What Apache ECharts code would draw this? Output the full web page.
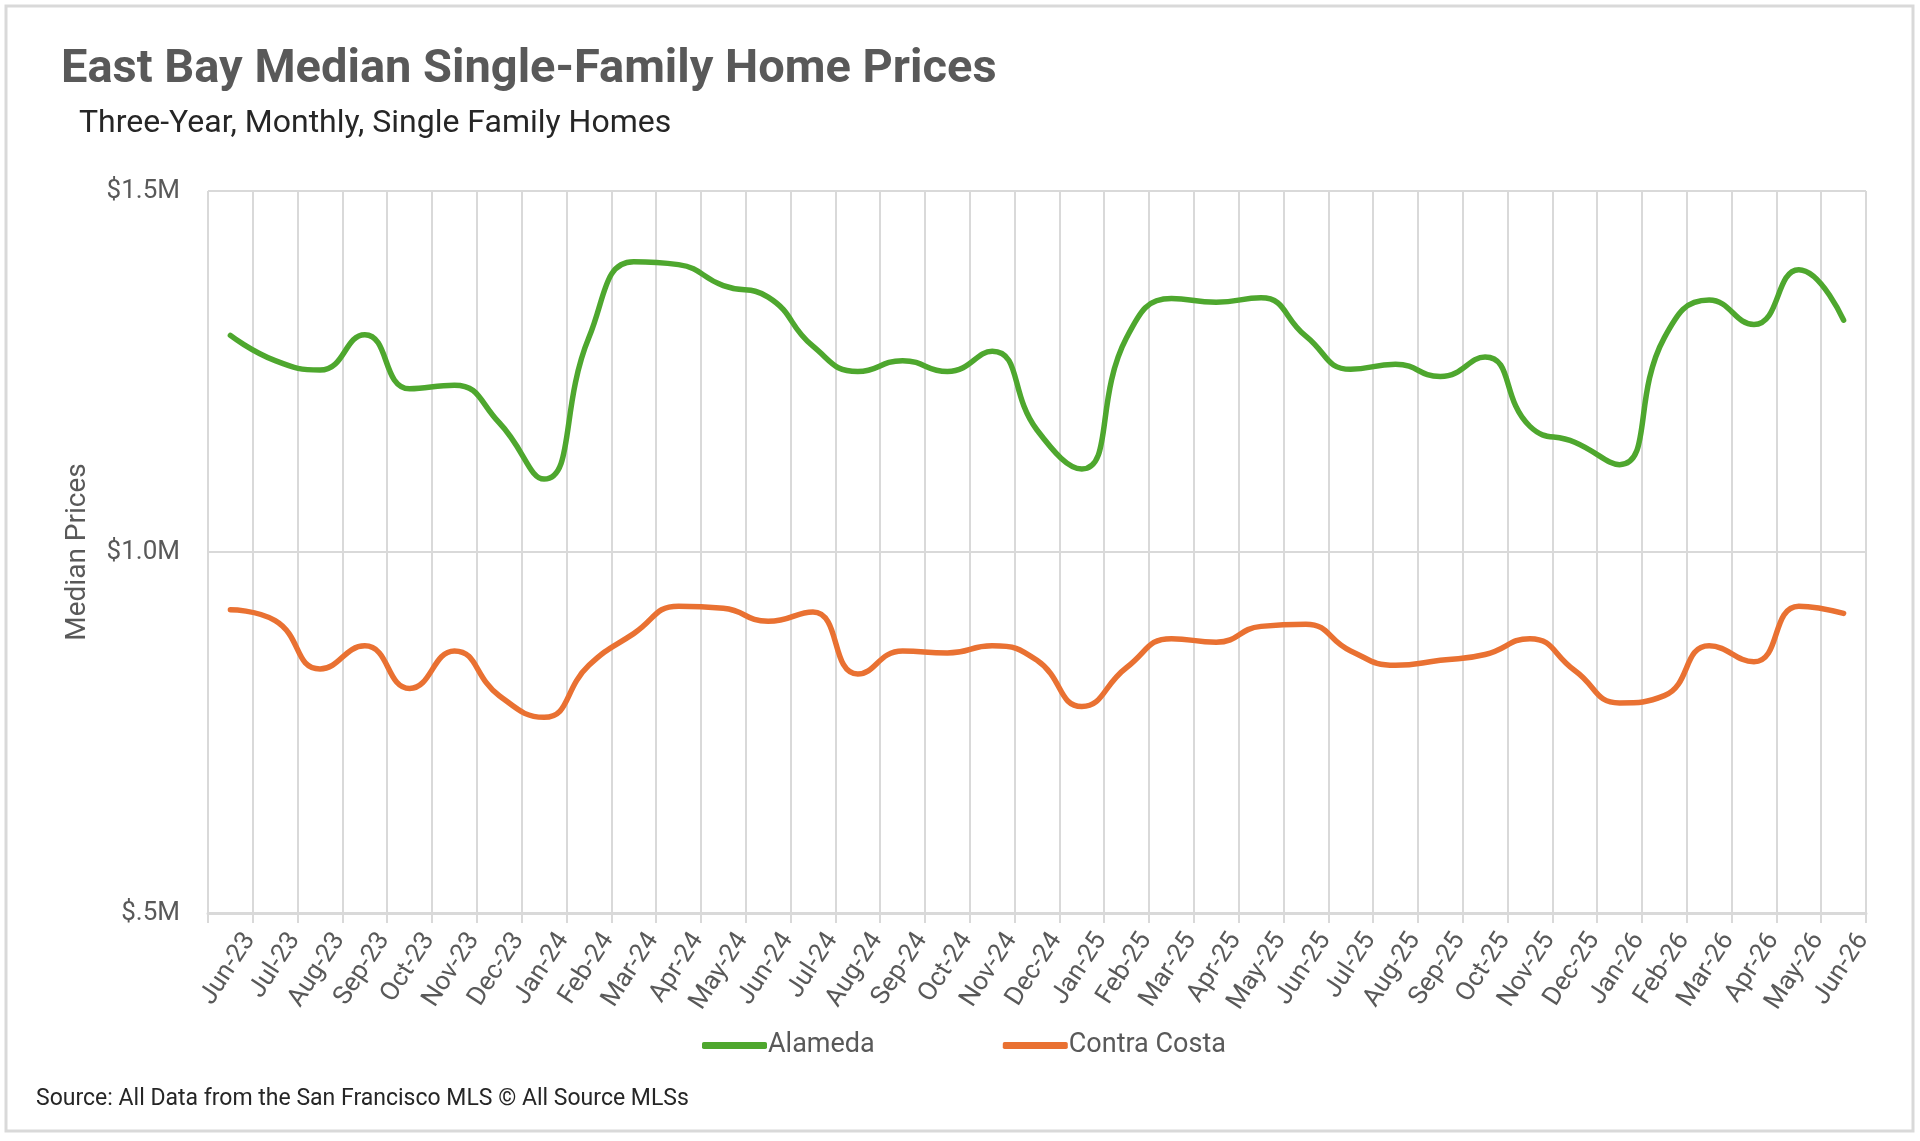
<!DOCTYPE html>
<html lang="en">
<head>
<meta charset="UTF-8">
<title>East Bay Median Single-Family Home Prices</title>
<script src="https://cdn.jsdelivr.net/npm/echarts@6/dist/echarts.min.js"></script>
<style>
  html, body { margin: 0; padding: 0; background: #fff; }
  #chart { width: 1920px; height: 1141px; }
</style>
</head>
<body>
<div id="chart"></div>
<script>
// months on the x axis
var months = ['Jun-23','Jul-23','Aug-23','Sep-23','Oct-23','Nov-23','Dec-23',
  'Jan-24','Feb-24','Mar-24','Apr-24','May-24','Jun-24','Jul-24','Aug-24','Sep-24','Oct-24','Nov-24','Dec-24',
  'Jan-25','Feb-25','Mar-25','Apr-25','May-25','Jun-25','Jul-25','Aug-25','Sep-25','Oct-25','Nov-25','Dec-25',
  'Jan-26','Feb-26','Mar-26','Apr-26','May-26','Jun-26'];

// median prices
var alameda = [1300000,1265000,1252000,1301000,1226000,1231000,1179000,
  1101000,1297000,1402000,1398000,1369000,1353000,1285000,1250000,1265000,1250000,1278000,1169000,
  1115000,1297000,1351000,1346000,1352000,1299000,1253000,1260000,1243000,1270000,1174000,1152000,
  1121000,1297000,1349000,1315000,1391000,1321000];
var contraCosta = [920000,905000,838000,870000,811000,863000,801000,
  771000,843000,887000,925000,922000,904000,917000,831000,863000,860000,870000,850000,
  786000,840000,880000,875000,897000,900000,863000,843000,850000,858000,880000,836000,
  791000,801000,870000,848000,925000,915000];

// y axis ticks
var yMin = 500000, yMax = 1500000, yStep = 500000;

var chart = echarts.init(document.getElementById('chart'));
var grey = '#595959';
var gridCol = '#d9d9d9';

function money(v) {
  if (v < 1000000) return '$.' + Math.round(v / 100000) + 'M';
  return '$' + (v / 1000000).toFixed(1) + 'M';
}

var option = {
  animation: false,
  textStyle: { fontFamily: 'Roboto' },
  title: [
    { text: 'East Bay Median Single-Family Home Prices', left: 56, top: 42,
      textStyle: { fontFamily: 'Roboto', fontSize: 47, fontWeight: 'bold', color: grey } },
    { text: 'Three-Year, Monthly, Single Family Homes', left: 74, top: 103,
      textStyle: { fontFamily: 'Roboto', fontSize: 32, fontWeight: 'normal', color: '#262626' } },
    { text: 'Source: All Data from the San Francisco MLS \u00a9 All Source MLSs', left: 31, top: 1083,
      textStyle: { fontFamily: 'Roboto', fontSize: 23, fontWeight: 'normal', color: '#262626' } }
  ],
  graphic: [{
    type: 'rect', silent: true,
    shape: { x: 6, y: 6, width: 1907, height: 1125 },
    style: { fill: 'none', stroke: gridCol, lineWidth: 3 }
  }],
  legend: {
    left: 702, top: 1032, padding: 0,
    icon: 'roundRect', itemWidth: 65, itemHeight: 7, itemGap: 128,
    textStyle: { fontFamily: 'Roboto', fontSize: 27, color: grey, padding: [0, 0, 0, -4] },
    data: ['Alameda', 'Contra Costa']
  },
  grid: { left: 208, right: 54, top: 191, bottom: 228, containLabel: false },
  xAxis: {
    type: 'category', data: months, boundaryGap: true,
    axisLine: { lineStyle: { color: gridCol, width: 3 } },
    axisTick: { show: true, length: 10, lineStyle: { color: gridCol, width: 2 } },
    splitLine: { show: true, interval: 0, lineStyle: { color: gridCol, width: 2 } },
    axisLabel: { interval: 0, rotate: 57, margin: 10, fontSize: 26, color: grey,
      verticalAlign: 'top', padding: [10, 0, 0, 0] }
  },
  yAxis: {
    type: 'value', min: yMin, max: yMax, interval: yStep,
    name: 'Median Prices', nameLocation: 'middle', nameGap: 116, nameRotate: 90,
    nameTextStyle: { fontSize: 28, color: grey },
    axisLine: { show: false }, axisTick: { show: false },
    splitLine: { lineStyle: { color: gridCol, width: 2 } },
    axisLabel: { margin: 28, fontSize: 26, color: grey, formatter: money }
  },
  series: [
    { name: 'Alameda', type: 'line', data: alameda, smooth: 0.5, symbol: 'none',
      color: '#4EA72E', lineStyle: { width: 5.5, color: '#4EA72E', cap: 'round' } },
    { name: 'Contra Costa', type: 'line', data: contraCosta, smooth: 0.5, symbol: 'none',
      color: '#E97132', lineStyle: { width: 5.5, color: '#E97132', cap: 'round' } }
  ]
};
chart.setOption(option);
</script>
</body>
</html>
